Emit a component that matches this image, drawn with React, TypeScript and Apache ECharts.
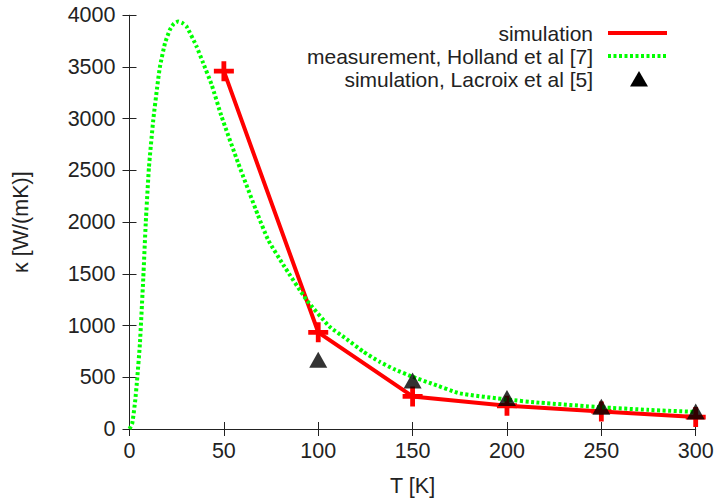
import React, { useEffect, useRef } from "react";
import * as echarts from "echarts";

const simT = [50, 100, 150, 200, 250, 300];
const simK = [3460, 935, 315, 225, 170, 115];

const measT = [0, 1.5, 3, 4, 5.5, 7.3, 8.6, 10.3, 12.6, 14.7, 16.1, 18.8, 21.4, 23.5, 25.8, 28, 30.3, 35.5, 39, 43.5, 48.8, 57.6, 68, 73.4, 81.4, 93.7, 106, 115, 123.7, 132.5, 140, 150, 160, 175, 200, 217, 250, 275, 300];
const measK = [0, 60, 270, 470, 820, 1460, 1990, 2530, 2990, 3310, 3500, 3730, 3860, 3920, 3940, 3925, 3890, 3700, 3540, 3330, 3020, 2570, 2070, 1830, 1590, 1250, 990, 870, 750, 650, 580, 505, 440, 345, 285, 255, 210, 185, 165];

const lacT = [100, 150, 200, 250, 300];
const lacK = [670, 470, 300, 215, 170];

const legendNames = ["simulation", "measurement, Holland et al [7]", "simulation, Lacroix et al [5]"];

const FONT = "Liberation Sans, Arial, Helvetica, sans-serif";
const AX = "#222";
const PLUS = "path://M3.8,0H6.2V3.8H10V6.2H6.2V10H3.8V6.2H0V3.8H3.8Z";

export default function App() {
  const ref = useRef<HTMLDivElement>(null);
  useEffect(() => {
    if (!ref.current) return;
    const chart = echarts.init(ref.current, undefined, { renderer: "svg" });
    const axisCommon = {
      axisLine: { show: true, lineStyle: { color: AX, width: 1 } },
      axisTick: { show: true, inside: true, length: 7, lineStyle: { color: AX } },
      splitLine: { show: false },
    };
    const legendY = [33, 56, 79];
    const graphic: any[] = [];
    legendNames.forEach((n, i) => {
      graphic.push({
        type: "text",
        x: 593,
        y: legendY[i],
        style: { text: n, font: `21px ${FONT}`, fill: AX, textAlign: "right", textVerticalAlign: "middle" },
      });
    });
    graphic.push({ type: "line", shape: { x1: 608, y1: legendY[0], x2: 667, y2: legendY[0] }, style: { stroke: "#ff0000", lineWidth: 4 } });
    graphic.push({ type: "line", shape: { x1: 608, y1: legendY[1], x2: 667, y2: legendY[1] }, style: { stroke: "#00ff00", lineWidth: 4, lineDash: [3, 2.5] } });
    graphic.push({ type: "polygon", shape: { points: [[630, legendY[2] + 7.5], [648, legendY[2] + 7.5], [639, legendY[2] - 8]] }, style: { fill: "#000" } });

    const fmt = (v: number) => String(v);

    chart.setOption({
      animation: false,
      grid: { left: 129.5, top: 15.3, right: 22.3, bottom: 72.7, containLabel: false },
      xAxis: [
        {
          type: "value", min: 0, max: 300, interval: 50, position: "bottom",
          name: "T [K]", nameLocation: "middle", nameGap: 46,
          nameTextStyle: { fontSize: 21.5, fontFamily: FONT, color: AX },
          axisLabel: { fontSize: 21.5, fontFamily: FONT, color: AX, margin: 11, formatter: fmt },
          ...axisCommon,
        },
        { type: "value", min: 0, max: 300, interval: 50, position: "top", axisLabel: { show: false }, ...axisCommon },
      ],
      yAxis: [
        {
          type: "value", min: 0, max: 4000, interval: 500, position: "left",
          name: "κ [W/(mK)]", nameLocation: "middle", nameGap: 98,
          nameTextStyle: { fontSize: 21.5, fontFamily: FONT, color: AX },
          axisLabel: { fontSize: 21.5, fontFamily: FONT, color: AX, margin: 14, formatter: fmt },
          ...axisCommon,
        },
        { type: "value", min: 0, max: 4000, interval: 500, position: "right", axisLabel: { show: false }, ...axisCommon },
      ],
      series: [
        {
          name: legendNames[0], type: "line", xAxisIndex: 0, yAxisIndex: 0,
          data: simT.map((t, i) => [t, simK[i]]),
          lineStyle: { color: "#ff0000", width: 4 },
          itemStyle: { color: "#ff0000" },
          symbol: PLUS, symbolSize: 20, showSymbol: true, z: 2,
        },
        {
          name: legendNames[1], type: "line", xAxisIndex: 0, yAxisIndex: 0,
          data: measT.map((t, i) => [t, measK[i]]),
          smooth: 0.15, showSymbol: false, symbol: "none",
          lineStyle: { color: "#00ff00", width: 4, type: [3, 2.5] }, z: 3,
        },
        {
          name: legendNames[2], type: "scatter", xAxisIndex: 0, yAxisIndex: 0,
          data: lacT.map((t, i) => [t, lacK[i]]),
          symbol: "triangle", symbolSize: [18, 16], itemStyle: { color: "#000" }, z: 4,
        },
      ],
      graphic,
    });
    return () => chart.dispose();
  }, []);
  return <div ref={ref} style={{ width: 718, height: 502, position: "absolute", left: 0, top: 0 }} />;
}
